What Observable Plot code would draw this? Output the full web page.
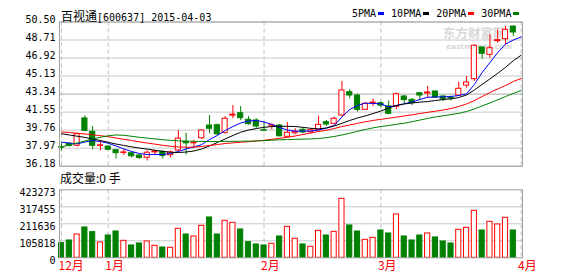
<!DOCTYPE html>
<html><head><meta charset="utf-8">
<script src="https://cdn.jsdelivr.net/npm/d3@7"></script>
<script src="https://cdn.jsdelivr.net/npm/@observablehq/plot@0.6"></script>
<style>
html,body{margin:0;padding:0;background:#fff;}
body{width:578px;height:276px;overflow:hidden;position:relative;}
.abs{position:absolute;white-space:nowrap;}
.cjk{font-family:"Noto Sans CJK SC",sans-serif;font-size:12px;line-height:12px;}
.num{font-family:"DejaVu Sans Mono",monospace;font-size:10px;line-height:12px;}
.sw{display:inline-block;width:6px;height:3px;margin:0 7px 2px 2px;vertical-align:middle;}
</style></head><body>
<div id="wm1" class="abs" style="left:443px;top:26px;color:#d8d8d8;font-family:'Noto Sans CJK SC';font-weight:bold;font-size:12.5px;line-height:13px;">东方财富网</div>
<div id="wm2" class="abs" style="left:446px;top:43px;color:#d8d8d8;font-family:'DejaVu Sans';font-weight:bold;font-size:7.5px;line-height:7px;">eastmoney.com</div>
<div id="main" class="abs" style="left:0;top:0;"></div>
<div id="vol" class="abs" style="left:0;top:185px;"></div>
<div id="title" class="abs" style="left:61px;top:7px;"><span class="cjk">百视通</span><span class="num">[600637] 2015-04-03</span></div>
<div id="legend" class="abs num" style="left:352px;top:8px;"></div>
<div id="volLabel" class="abs cjk" style="left:60px;top:172px;">成交量:0 手</div>
<script>
// ---- data ----
const open  = [38.07,38.4,38.21,40.92,39.6,38.2,38.13,37.77,37.5,37.47,37.24,37.02,37.55,37.6,37.27,37.74,38.6,38.45,38.95,40.22,40.25,39.46,41.2,41.44,40.79,40.72,39.75,40.2,40.22,39.1,39.45,39.79,39.55,39.79,40.55,40.39,41.21,43.53,43.2,41.78,42.45,42.43,42.12,42.08,43.1,42.77,43.43,43.4,43.6,43.1,42.95,43.2,44.19,44.82,47.97,47.24,48.6,48.79,50.05];
const high  = [38.4,38.5,39.46,41.18,40.12,38.7,38.2,37.8,37.85,37.6,37.35,37.7,37.75,37.7,37.7,39.72,39.45,38.75,39.8,41.21,40.35,41.11,42.21,42.1,41.1,40.9,40.55,40.4,40.3,40.5,39.9,39.95,39.9,41.15,40.72,41.05,44.59,43.77,43.35,42.5,42.85,42.55,42.65,43.45,43.2,42.9,43.45,44.1,43.65,43.2,43.15,44.52,45.09,48.24,48.0,49.23,49.72,50.05,50.1];
const low   = [37.7,38.1,38.1,39.6,37.81,37.7,37.7,36.9,37.25,37.0,36.85,36.7,37.3,36.9,37.0,37.6,37.3,38.0,38.85,39.4,39.2,39.4,40.89,40.7,40.25,39.95,39.6,39.8,39.1,39.05,39.3,39.4,39.4,39.7,40.12,40.3,41.1,42.87,41.55,41.7,42.1,42.0,41.3,41.8,42.4,42.2,42.7,42.95,42.9,42.6,42.65,43.1,43.93,44.59,46.8,46.9,48.4,48.24,49.05];
const close = [38.03,38.2,39.36,39.69,38.21,38.25,37.81,37.47,37.55,37.17,37.0,37.52,37.65,37.2,37.55,38.92,38.45,38.5,39.72,39.9,39.35,40.89,41.3,40.95,40.35,40.12,39.7,40.25,39.15,39.5,39.6,39.53,39.75,40.29,40.32,40.89,43.7,43.2,41.78,42.38,42.5,42.2,41.38,43.32,42.74,42.44,43.2,43.5,43.0,42.83,42.9,43.87,44.49,48.14,47.34,47.9,48.7,49.72,49.46];
const volume = [91300,107900,145200,188800,159800,95400,139000,163900,105800,76800,89200,101700,74700,64300,62200,180500,145200,132800,199200,251100,145200,230300,217900,176400,97500,83000,76800,87100,132800,193000,118300,83000,68500,168100,139000,161800,367300,201300,163900,112000,124500,170100,151500,269700,132800,107900,139000,151500,126600,101700,89200,174300,186700,292600,170100,224100,207500,249000,170100];
const ma5  = [38.56,38.48,38.40,38.58,38.73,38.63,38.46,38.19,37.89,37.64,37.44,37.34,37.34,37.34,37.44,37.64,37.89,38.09,38.33,38.83,39.23,39.72,40.12,40.47,40.67,40.72,40.57,40.32,40.02,39.77,39.66,39.66,39.68,39.77,39.97,40.22,41.07,41.81,42.21,42.44,42.41,42.38,42.06,42.21,42.38,42.56,42.80,43.03,43.05,43.07,43.10,43.20,43.37,44.29,45.48,46.48,47.47,48.31,48.71,49.01];
const ma10 = [39.40,39.28,39.16,39.04,38.88,38.73,38.55,38.38,38.24,38.10,37.98,37.88,37.76,37.66,37.56,37.54,37.59,37.69,37.89,38.19,38.53,38.88,39.23,39.55,39.77,39.92,40.04,40.12,40.14,40.14,40.12,40.04,39.94,39.89,39.97,40.17,40.44,40.72,40.97,41.17,41.41,41.66,41.96,42.21,42.36,42.46,42.54,42.60,42.70,42.80,42.87,43.00,43.25,43.75,44.30,44.85,45.40,46.00,46.65,47.20];
const ma20 = [39.58,39.53,39.45,39.38,39.30,39.21,39.11,38.98,38.85,38.73,38.60,38.48,38.37,38.26,38.16,38.09,38.06,38.08,38.14,38.24,38.33,38.43,38.50,38.56,38.61,38.68,38.76,38.85,38.95,39.05,39.18,39.33,39.48,39.63,39.74,39.92,40.12,40.27,40.44,40.59,40.72,40.84,40.94,41.05,41.17,41.28,41.41,41.53,41.64,41.76,41.91,42.11,42.36,42.70,43.10,43.50,43.85,44.19,44.59,44.89];
const ma30 = [38.09,38.29,38.48,38.68,38.88,39.06,39.20,39.28,39.25,39.15,39.05,38.97,38.89,38.81,38.75,38.70,38.67,38.65,38.63,38.63,38.63,38.64,38.65,38.66,38.67,38.69,38.72,38.76,38.80,38.83,38.85,38.87,38.89,38.93,39.01,39.13,39.28,39.45,39.65,39.82,39.99,40.12,40.22,40.34,40.45,40.60,40.76,40.92,41.07,41.19,41.31,41.43,41.61,41.86,42.16,42.46,42.77,43.10,43.40,43.70];
const priceTicks = [36.18,37.97,39.76,41.55,43.34,45.13,46.92,48.71,50.50];
const volTicks = [0,105818,211636,317455,423273];
const monthIdx = [0,6,26,41,59];
const monthLabels = ["12月","1月","2月","3月","4月"];
const maNames = ["5PMA","10PMA","20PMA","30PMA"];
const maColors = ["#0000ff","#000000","#ff0000","#008000"];

// ---- build ----
const RED = "#ff0000", GREEN = "#008000", GRID = "#c8c8c8", FRAME = "#a0a0a0";
const bars = open.map((o,i)=>({i, o, h: high[i], l: low[i], c: close[i], v: volume[i], up: close[i] >= o}));
const upBars = bars.filter(d=>d.up), downBars = bars.filter(d=>!d.up);
const hw = 0.33;
const xDomain = [-0.26, 59.18];
const maSeries = [ma5, ma10, ma20, ma30].map(a => a.map((v,i)=>({i, v})));
const mono = "DejaVu Sans Mono";

const main = Plot.plot({
  width: 578, height: 172,
  marginLeft: 59, marginRight: 56, marginTop: 21.5, marginBottom: 6.3,
  style: {background: "transparent", overflow: "visible"},
  x: {domain: xDomain, axis: null, label: null},
  y: {domain: [priceTicks[0], priceTicks[priceTicks.length-1]], axis: null, label: null},
  marks: [
    Plot.ruleY(priceTicks.filter(t => t !== 43.34), {stroke: GRID}),
    Plot.ruleY([43.34], {stroke: "#a8a8a8"}),
    Plot.ruleX(monthIdx, {stroke: "#c0c0c0", strokeDasharray: "4,3"}),
    Plot.ruleX(upBars, {x: "i", y1: "l", y2: "h", stroke: RED}),
    Plot.ruleX(downBars, {x: "i", y1: "l", y2: "h", stroke: GREEN}),
    Plot.rect(upBars, {x1: d=>d.i-hw, x2: d=>d.i+hw, y1: "o", y2: "c", fill: "white", stroke: RED}),
    Plot.rect(downBars, {x1: d=>d.i-hw, x2: d=>d.i+hw, y1: "o", y2: "c", fill: GREEN, stroke: GREEN}),
    ...maSeries.map((s,k) => Plot.line(s, {x: "i", y: "v", stroke: maColors[k], strokeWidth: 1})),
    Plot.frame({stroke: FRAME}),
    Plot.axisY(priceTicks, {label: null, tickSize: 0, tickPadding: 4, tickFormat: d => d.toFixed(2), fontSize: 10, fontFamily: mono, dy: -2})
  ]
});
document.getElementById("main").appendChild(main);

const vol = Plot.plot({
  width: 578, height: 91,
  marginLeft: 59, marginRight: 56, marginTop: 4.3, marginBottom: 18.7,
  style: {background: "transparent", overflow: "visible"},
  x: {domain: xDomain, axis: null, label: null},
  y: {domain: [volTicks[0], volTicks[volTicks.length-1]], axis: null, label: null},
  marks: [
    Plot.ruleY(volTicks.slice(1, -1), {stroke: GRID}),
    Plot.ruleX(monthIdx, {stroke: "#c0c0c0", strokeDasharray: "4,3"}),
    Plot.rect(upBars, {x1: d=>d.i-hw, x2: d=>d.i+hw, y1: 0, y2: "v", fill: "white", stroke: RED}),
    Plot.rect(downBars, {x1: d=>d.i-hw, x2: d=>d.i+hw, y1: 0, y2: "v", fill: GREEN, stroke: GREEN}),
    Plot.frame({stroke: FRAME}),
    Plot.axisY(volTicks, {label: null, tickSize: 0, tickPadding: 4, tickFormat: d => String(d), fontSize: 10, fontFamily: mono, dy: 3}),
    Plot.axisX(monthIdx, {label: null, tickSize: 0, tickPadding: 4, tickFormat: d => monthLabels[monthIdx.indexOf(d)], textAnchor: "start", dx: -3, fill: RED, fontSize: 12, fontFamily: "Noto Sans CJK SC"})
  ]
});
document.getElementById("vol").appendChild(vol);

const legend = document.getElementById("legend");
maNames.forEach((n,k) => {
  const t = document.createElement("span"); t.textContent = n; legend.appendChild(t);
  const s = document.createElement("span"); s.className = "sw"; s.style.background = maColors[k]; legend.appendChild(s);
});
</script>
</body></html>
